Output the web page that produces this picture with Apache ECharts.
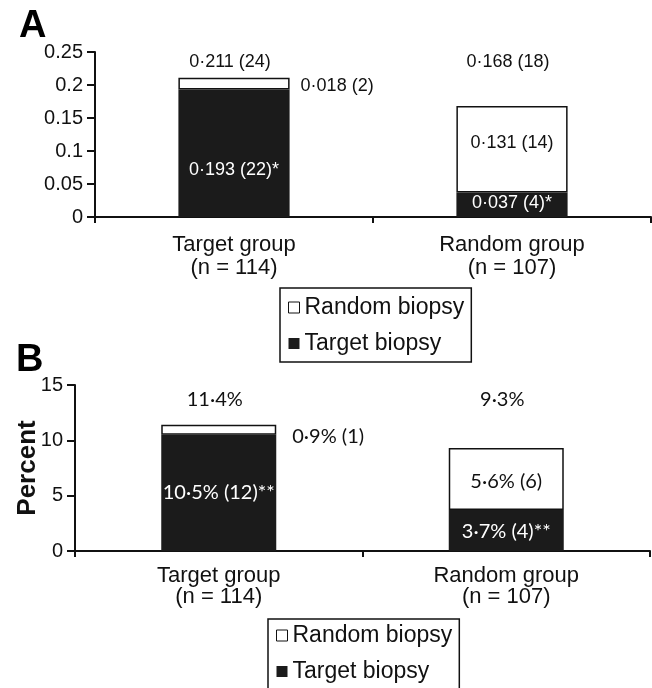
<!DOCTYPE html>
<html>
<head>
<meta charset="utf-8">
<script src="https://cdn.jsdelivr.net/npm/echarts@6/dist/echarts.min.js"></script>
<style>
html,body{margin:0;padding:0;background:#fff;}
#chart{width:652px;height:688px;}
</style>
</head>
<body>
<div id="chart"></div>
<script>
// ---------- DATA ----------
const categories = ['Target group\n(n = 114)', 'Random group\n(n = 107)'];
const seriesNames = ['Random biopsy', 'Target biopsy'];

// Panel A (rates)
const targetA = [0.193, 0.037];
const randomA = [0.018, 0.131];
const totalsA = [0.211, 0.168];
const targetLabelsA = ['0·193 (22)*', '0·037 (4)*'];
const randomLabelsA = ['0·018 (2)', '0·131 (14)'];
const totalLabelsA = ['0·211 (24)', '0·168 (18)'];
const yTicksA = [0, 0.05, 0.1, 0.15, 0.2, 0.25];

// Panel B (percent)
const targetB = [10.5, 3.7];
const randomB = [0.9, 5.6];
const totalsB = [11.4, 9.3];
const targetLabelsB = ['10·5% (12)**', '3·7% (4)**'];
const randomLabelsB = ['0·9% (1)', '5·6% (6)'];
const totalLabelsB = ['11·4%', '9·3%'];
const yTicksB = [0, 5, 10, 15];

// ---------- STYLE / LAYOUT ----------
const BLACK = '#1b1b1b';
const INK = '#111';
const FONT_A = "'Liberation Sans', Arial, sans-serif";
const FONT_B = "Lato, 'Open Sans', sans-serif";
const totalLabelLevelA = 0.235;   // height of the "total" text row in panel A
const totalLabelLevelB = 13.65;   // height of the "total" text row in panel B

const targetPlaceA = [{position:'inside', offset:[0,17]}, {position:'inside', offset:[0,-2]}];
const randomPlaceA = [{position:'right', distance:11, offset:[0,2], color:INK}, {position:'inside', offset:[0,-6], color:INK}];
const targetPlaceB = [{position:'inside', offset:[0,0]}, {position:'inside', offset:[0,1]}];
const randomPlaceB = [{position:'right', distance:16, offset:[0,7], color:INK}, {position:'inside', offset:[0,2], color:INK}];

function items(vals, labels, place, font, size, white) {
  return vals.map((v, i) => ({
    value: v,
    label: Object.assign({
      show: true,
      formatter: labels[i],
      color: white ? '#fff' : INK,
      fontFamily: font,
      fontSize: size
    }, place[i])
  }));
}

function yAxis(grid, ticks, labelSize, extra) {
  return Object.assign({
    type: 'value',
    gridIndex: grid,
    min: ticks[0],
    max: ticks[ticks.length - 1],
    interval: ticks[1] - ticks[0],
    splitLine: {show: false},
    axisLine: {show: true, lineStyle: {color: INK, width: 2}},
    axisTick: {show: true, inside: false, length: 8, lineStyle: {color: INK, width: 2}},
    axisLabel: {color: INK, fontFamily: FONT_A, fontSize: labelSize, margin: 12}
  }, extra || {});
}

function xAxis(grid, margin, lh) {
  return {
    type: 'category',
    gridIndex: grid,
    data: categories,
    axisLine: {show: true, lineStyle: {color: INK, width: 2}},
    axisTick: {show: true, length: 6, lineStyle: {color: INK, width: 2}},
    axisLabel: {color: INK, fontFamily: FONT_A, fontSize: 22, lineHeight: lh, margin: margin}
  };
}

function legend(left, top, padTop) {
  return {
    data: [
      {name: seriesNames[0], icon: 'rect', itemStyle: {color: '#fff', borderColor: INK, borderWidth: 1}},
      {name: seriesNames[1], icon: 'rect', itemStyle: {color: BLACK, borderColor: BLACK, borderWidth: 0}}
    ],
    orient: 'vertical', left: left, top: top, height: 200,
    itemWidth: 11, itemHeight: 11, itemGap: 13,
    padding: [padTop, 7, 7, 8],
    borderColor: INK, borderWidth: 1.5,
    selectedMode: false,
    textStyle: {color: INK, fontFamily: FONT_A, fontSize: 23}
  };
}

function totalsSeries(ax, levels, labels, font, size) {
  return {
    type: 'scatter', xAxisIndex: ax, yAxisIndex: ax, symbolSize: 0, silent: true,
    itemStyle: {opacity: 1},
    data: levels,
    label: {show: true, position: 'inside', offset: [-4, 0], color: INK, opacity: 1,
      fontFamily: font, fontSize: size, formatter: p => labels[p.dataIndex]}
  };
}

const option = {
  backgroundColor: '#fff',
  animation: false,
  grid: [
    {left: 95, top: 52, right: 1, bottom: 471},
    {left: 75, top: 385, right: 2, bottom: 137}
  ],
  xAxis: [xAxis(0, 16, 23), xAxis(1, 14, 21)],
  yAxis: [
    yAxis(0, yTicksA, 20),
    yAxis(1, yTicksB, 20, {
      name: 'Percent', nameLocation: 'middle', nameRotate: 90, nameGap: 34, nameMoveOverlap: false,
      nameTextStyle: {color: INK, fontFamily: FONT_A, fontSize: 26, fontWeight: 'bold'}
    })
  ],
  legend: [legend(280, 288, 8), legend(268, 619, 5)],
  graphic: [
    {type: 'text', left: 19, top: 8, style: {text: 'A', font: "bold 38px 'Liberation Sans', Arial, sans-serif", fill: '#000'}},
    {type: 'text', left: 16, top: 342, style: {text: 'B', font: "bold 38px 'Liberation Sans', Arial, sans-serif", fill: '#000'}}
  ],
  series: [
    {
      name: seriesNames[1], type: 'bar', xAxisIndex: 0, yAxisIndex: 0, stack: 'a', barWidth: '40%',
      itemStyle: {color: BLACK},
      data: items(targetA, targetLabelsA, targetPlaceA, FONT_A, 18, true)
    },
    {
      name: seriesNames[0], type: 'bar', xAxisIndex: 0, yAxisIndex: 0, stack: 'a', barWidth: '40%',
      itemStyle: {color: '#fff', borderColor: INK, borderWidth: 1.5},
      data: items(randomA, randomLabelsA, randomPlaceA, FONT_A, 18, false)
    },
    totalsSeries(0, totalsA.map((t, i) => [i, totalLabelLevelA]), totalLabelsA, FONT_A, 18),
    {
      name: seriesNames[1], type: 'bar', xAxisIndex: 1, yAxisIndex: 1, stack: 'b', barWidth: '40%',
      itemStyle: {color: BLACK},
      data: items(targetB, targetLabelsB, targetPlaceB, FONT_B, 20, true)
    },
    {
      name: seriesNames[0], type: 'bar', xAxisIndex: 1, yAxisIndex: 1, stack: 'b', barWidth: '40%',
      itemStyle: {color: '#fff', borderColor: INK, borderWidth: 1.5},
      data: items(randomB, randomLabelsB, randomPlaceB, FONT_B, 20, false)
    },
    totalsSeries(1, totalsB.map((t, i) => [i, totalLabelLevelB]), totalLabelsB, FONT_B, 20)
  ]
};

const chart = echarts.init(document.getElementById('chart'), null, {renderer: 'canvas'});
chart.setOption(option);
</script>
</body>
</html>
